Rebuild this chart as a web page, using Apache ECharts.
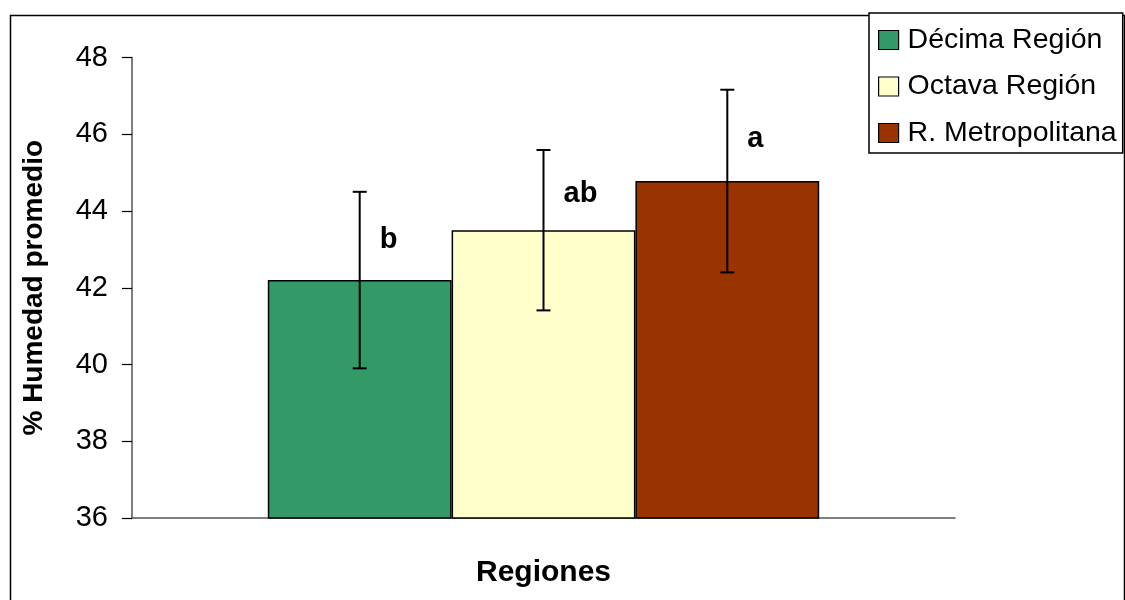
<!DOCTYPE html>
<html><head><meta charset="utf-8">
<script src="https://cdn.jsdelivr.net/npm/echarts@6/dist/echarts.min.js"></script>
<style>html,body{margin:0;padding:0;background:#fff}#c{width:1125px;height:600px}</style>
</head><body><div id="c"></div>
<script>
const seriesNames = ['Décima Región', 'Octava Región', 'R. Metropolitana'];
const means = [42.2, 43.5, 44.78];
const errors = [2.3, 2.09, 2.38];
const letters = ['b', 'ab', 'a'];
const colors = ['#339966', '#FFFFCC', '#993300'];
const categories = [''];
const FONT = 'Liberation Sans, Arial, sans-serif';
const CAT_GAP = 0.33;

const chart = echarts.init(document.getElementById('c'));
const barSeries = seriesNames.map((n, i) => ({
  name: n, type: 'bar', data: [means[i]],
  barGap: '0%', barCategoryGap: (CAT_GAP * 100) + '%',
  itemStyle: { color: colors[i], borderColor: '#000', borderWidth: 1.5 },
  z: 2
}));
const errData = means.map((m, i) => [0, m - errors[i], m + errors[i], i, m]);

chart.setOption({
  animation: false,
  textStyle: { fontFamily: FONT },
  graphic: [{ type: 'rect', left: 8, top: 13, shape: { width: 1114, height: 620 },
    style: { fill: null, stroke: '#000', lineWidth: 1.5 }, silent: true, z: -10 }],
  legend: {
    orient: 'vertical', left: 869, top: 13,
    backgroundColor: '#fff', borderColor: '#000', borderWidth: 1.5,
    padding: [10, 6, 3, 9], itemGap: 12.5, itemWidth: 20, itemHeight: 19,
    icon: 'rect',
    itemStyle: { borderColor: '#000', borderWidth: 1.2 },
    textStyle: { fontSize: 28.5, fontFamily: FONT, color: '#000', lineHeight: 34, padding: [0, 0, 0, 4] },
    data: seriesNames
  },
  grid: { left: 132, right: 170, top: 57.5, bottom: 82, containLabel: false, outerBoundsMode: 'none' },
  xAxis: {
    type: 'category', data: categories,
    name: 'Regiones', nameLocation: 'middle', nameGap: 40,
    nameTextStyle: { fontSize: 30, fontWeight: 'bold', color: '#000', fontFamily: FONT },
    axisLine: { lineStyle: { color: '#555', width: 1.5 } },
    axisTick: { show: false }, axisLabel: { show: false }
  },
  yAxis: {
    type: 'value', min: 36, max: 48, interval: 2,
    name: '% Humedad promedio', nameLocation: 'middle', nameGap: 84, nameRotate: 90,
    nameTextStyle: { fontSize: 28, fontWeight: 'bold', color: '#000', fontFamily: FONT },
    axisLine: { show: true, lineStyle: { color: '#555', width: 1.5 } },
    axisTick: { show: true, length: 10, lineStyle: { color: '#000', width: 1.2 } },
    axisLabel: { fontSize: 29, color: '#000', margin: 24, fontFamily: FONT },
    splitLine: { show: false }
  },
  series: barSeries.concat([{
    type: 'custom', data: errData, z: 5, silent: true,
    encode: { x: 0, y: [1, 2] },
    renderItem: function (params, api) {
      const catW = api.size([1, 0])[0];
      const bw = catW * (1 - CAT_GAP) / seriesNames.length;
      const idx = api.value(3);
      const c = api.coord([api.value(0), api.value(4)]);
      const x = c[0] + (idx - (seriesNames.length - 1) / 2) * bw;
      const lo = api.coord([0, api.value(1)])[1];
      const hi = api.coord([0, api.value(2)])[1];
      const cap = 7;
      const ls = { stroke: '#000', lineWidth: 2 };
      const ty = (hi + c[1]) / 2 + 4;
      return { type: 'group', children: [
        { type: 'line', shape: { x1: x, y1: lo, x2: x, y2: hi }, style: ls },
        { type: 'line', shape: { x1: x - cap, y1: lo, x2: x + cap, y2: lo }, style: ls },
        { type: 'line', shape: { x1: x - cap, y1: hi, x2: x + cap, y2: hi }, style: ls },
        { type: 'text', x: x + 20, y: ty, style: { text: letters[idx], fontSize: 29, fontWeight: 'bold',
          fontFamily: FONT, fill: '#000', align: 'left', verticalAlign: 'middle' } }
      ]};
    }
  }])
});
</script></body></html>
